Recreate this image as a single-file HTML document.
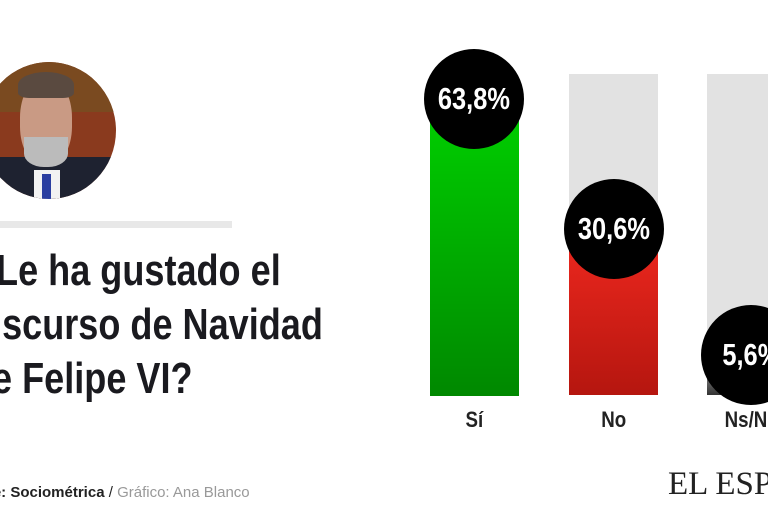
<!DOCTYPE html>
<html><head><meta charset="utf-8"><style>
html,body{margin:0;width:768px;height:512px;overflow:hidden}
body{background:#fff;position:relative;font-family:"Liberation Sans",sans-serif}
.a{position:absolute}
.t{font-weight:bold;font-size:44px;color:#1a1a1f;white-space:nowrap;line-height:54px;transform:scaleX(0.82);transform-origin:left top}
.c{border-radius:50%;background:#000;color:#fff;font-weight:bold;font-size:31px;display:flex;align-items:center;justify-content:center;width:100px;height:100px}
.c span{display:inline-block;transform:scaleX(0.82)}
.l{font-weight:bold;font-size:22px;color:#222;text-align:center;width:100px}
.l span{display:inline-block;transform:scaleX(0.85)}
</style></head><body>
<div class="a" style="left:-18px;top:62px;width:134px;height:137px;border-radius:50%;overflow:hidden;background:#8a3a1e">
 <div class="a" style="left:0;top:0;width:134px;height:50px;background:#7a4a20"></div>
 <div class="a" style="left:0;top:95px;width:134px;height:50px;background:#1e2230"></div>
 <div class="a" style="left:52px;top:108px;width:26px;height:40px;background:#f2f2f2"></div>
 <div class="a" style="left:60px;top:112px;width:9px;height:30px;background:#2a3ea0"></div>
 <div class="a" style="left:38px;top:16px;width:52px;height:88px;border-radius:45%;background:#c99a84"></div>
 <div class="a" style="left:36px;top:10px;width:56px;height:26px;border-radius:50% 50% 20% 20%;background:#5a4a40"></div>
 <div class="a" style="left:42px;top:75px;width:44px;height:30px;border-radius:0 0 45% 45%;background:#bbb"></div>
</div>
<div class="a" style="left:0;top:221px;width:232px;height:7px;background:#e8e8e8"></div>
<div class="a t" style="left:-26px;top:244px">¿Le ha gustado el</div>
<div class="a t" style="left:-34px;top:298px">Discurso de Navidad</div>
<div class="a t" style="left:-30px;top:352px">de Felipe VI?</div>
<div class="a" style="left:-48px;top:484px;font-size:15px;color:#222;white-space:nowrap"><b>Fuente: Sociométrica</b> / <span style="color:#999">Gráfico: Ana Blanco</span></div>
<div class="a" style="left:668px;top:466px;font-family:'Liberation Serif',serif;font-size:33px;color:#222;white-space:nowrap">EL ESPAÑOL</div>

<div class="a" style="left:569px;top:74px;width:89px;height:321px;background:#e2e2e2"></div>
<div class="a" style="left:707px;top:74px;width:61px;height:321px;background:#e2e2e2"></div>
<div class="a" style="left:430px;top:120px;width:89px;height:276px;background:linear-gradient(#0c0,#080)"></div>
<div class="a" style="left:569px;top:250px;width:89px;height:145px;background:linear-gradient(#e8261d,#b5160f)"></div>
<div class="a" style="left:707px;top:376px;width:61px;height:19px;background:linear-gradient(#777,#333)"></div>
<div class="a c" style="left:424px;top:49px"><span>63,8%</span></div>
<div class="a c" style="left:564px;top:179px"><span>30,6%</span></div>
<div class="a" style="left:701px;top:305px;width:67px;height:100px;overflow:hidden"><div class="c"><span>5,6%</span></div></div>
<div class="a l" style="left:424px;top:407px"><span>Sí</span></div>
<div class="a l" style="left:564px;top:407px"><span>No</span></div>
<div class="a" style="left:701px;top:407px;width:67px;height:30px;overflow:hidden"><div class="l"><span>Ns/Nc</span></div></div>
</body></html>
